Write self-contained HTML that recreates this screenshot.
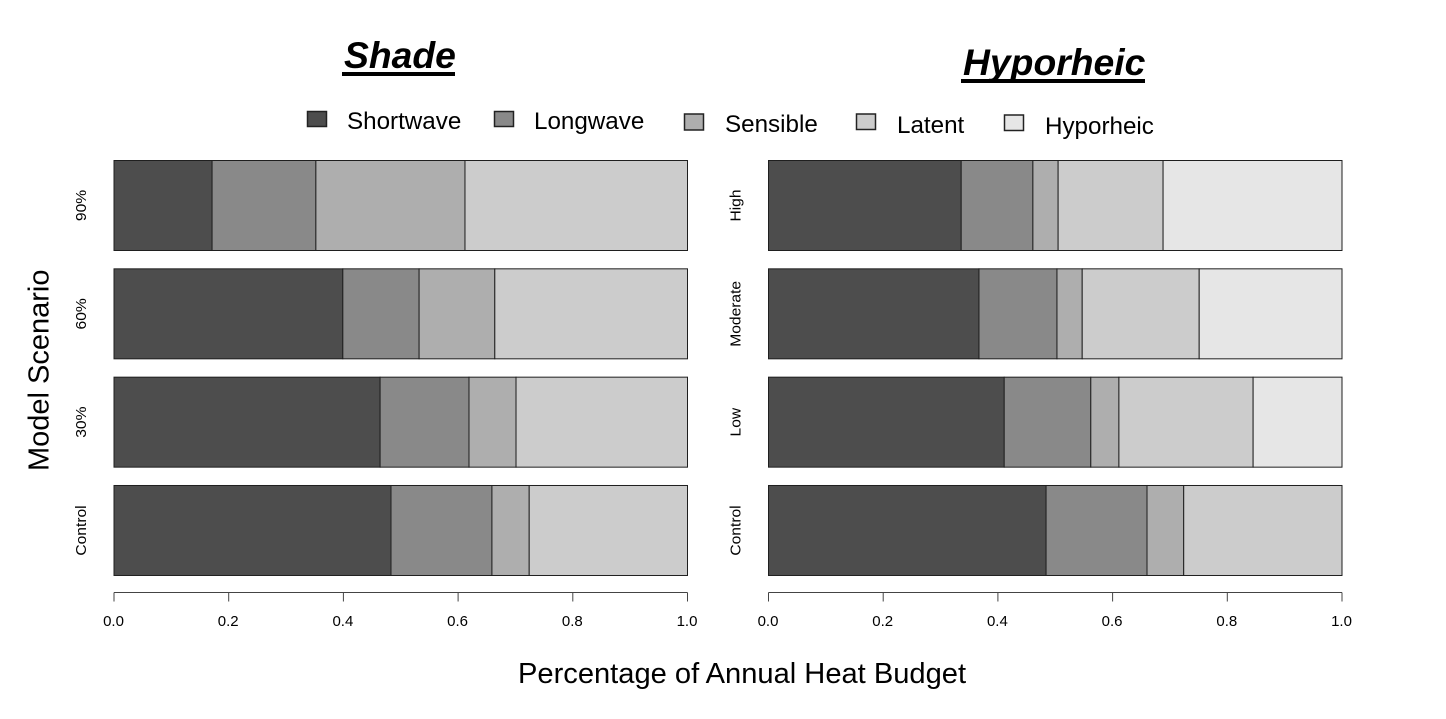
<!DOCTYPE html>
<html>
<head>
<meta charset="utf-8">
<title>Annual Heat Budget</title>
<style>
html,body{margin:0;padding:0;background:#fff;width:1446px;height:719px;overflow:hidden}
svg{display:block}
text{font-family:"Liberation Sans",sans-serif;fill:#000}
</style>
</head>
<body>
<svg id="chart" xmlns="http://www.w3.org/2000/svg" width="1446" height="719" viewBox="0 0 1446 719">
  <text x="344" y="68" font-size="37.300" font-weight="bold" font-style="italic">Shade</text>
  <rect x="342" y="72" width="113" height="4" fill="#000"/>
  <text x="963" y="75" font-size="37.300" font-weight="bold" font-style="italic">Hyporheic</text>
  <rect x="961" y="79" width="184" height="4" fill="#000"/>
  <text transform="translate(48.500,471) rotate(-90)" font-size="29">Model Scenario</text>
  <text x="518" y="683" font-size="29.100">Percentage of Annual Heat Budget</text>
  <g>
    <g>
      <rect x="307.500" y="111.500" width="19" height="15" fill="#4d4d4d" stroke="#222" stroke-width="1.500"/>
      <text x="347" y="129" font-size="24.200">Shortwave</text>
    </g>
    <g>
      <rect x="494.500" y="111.500" width="19" height="15" fill="#898989" stroke="#222" stroke-width="1.500"/>
      <text x="534" y="129" font-size="24.200">Longwave</text>
    </g>
    <g>
      <rect x="684.500" y="114" width="19" height="16" fill="#aeaeae" stroke="#222" stroke-width="1.500"/>
      <text x="725" y="132" font-size="24.200">Sensible</text>
    </g>
    <g>
      <rect x="856.500" y="114" width="19" height="15.500" fill="#cccccc" stroke="#222" stroke-width="1.500"/>
      <text x="897" y="133" font-size="24.200">Latent</text>
    </g>
    <g>
      <rect x="1004.500" y="115" width="19" height="15.500" fill="#e6e6e6" stroke="#222" stroke-width="1.500"/>
      <text x="1045" y="134" font-size="24.200">Hyporheic</text>
    </g>
  </g>
</svg>
<script>
// Category labels, top row to bottom row
const shadeCategories = ['90%', '60%', '30%', 'Control'];
const hyporheicCategories = ['High', 'Moderate', 'Low', 'Control'];

// Shade panel: fraction of budget per component
const shadeShortwave = [0.171, 0.399, 0.464, 0.483];
const shadeLongwave = [0.181, 0.133, 0.155, 0.176];
const shadeSensible = [0.260, 0.132, 0.082, 0.065];
const shadeLatent = [0.388, 0.336, 0.299, 0.276];

// Hyporheic panel: fraction of budget per component
const hypoShortwave = [0.336, 0.367, 0.411, 0.484];
const hypoLongwave = [0.125, 0.136, 0.151, 0.176];
const hypoSensible = [0.044, 0.044, 0.049, 0.064];
const hypoLatent = [0.183, 0.204, 0.234, 0.276];
const hypoHyporheic = [0.312, 0.249, 0.155, 0];

const seriesNames = ['shortwave', 'longwave', 'sensible', 'latent', 'hyporheic'];
const seriesColors = ['#4d4d4d', '#898989', '#aeaeae', '#cccccc', '#e6e6e6'];
const xTickValues = [0, 0.2, 0.4, 0.6, 0.8, 1];

const NS = 'http://www.w3.org/2000/svg';
const svg = document.getElementById('chart');

function mk(tag, attrs, parent) {
  const el = document.createElementNS(NS, tag);
  for (const k in attrs) el.setAttribute(k, attrs[k]);
  parent.appendChild(el);
  return el;
}

function drawPanel(panelName, x0, categories, series) {
  const plotWidth = 573.5;
  const rowTop = 160.5;
  const rowStep = 108.33;
  const barHeight = 90;
  const axisY = 592.5;
  const xScale = v => x0 + v * plotWidth;
  const yScale = i => rowTop + i * rowStep;

  const panel = mk('g', {}, svg);
  
  

  categories.forEach((cat, i) => {
    let cum = 0;
    series.forEach((values, s) => {
      const v = values[i];
      if (v > 0) {
        const bar = mk('rect', {
          x: xScale(cum), y: yScale(i), width: v * plotWidth, height: barHeight,
          fill: seriesColors[s], stroke: '#1f1f1f', 'stroke-width': 1
        }, panel);
        
        
      }
      cum += v;
    });
    const label = mk('text', {
      transform: 'translate(' + (x0 - 28) + ',' + (yScale(i) + barHeight / 2) + ') rotate(-90) scale(1.04,1)',
      'text-anchor': 'middle', 'font-size': 15
    }, panel);
    
    
    label.textContent = cat;
  });

  const axisLine = mk('line', {
    x1: xScale(xTickValues[0]), x2: xScale(xTickValues[xTickValues.length - 1]),
    y1: axisY, y2: axisY, stroke: '#444', 'stroke-width': 1
  }, panel);
  
  

  xTickValues.forEach(t => {
    const tick = mk('line', {
      x1: xScale(t), x2: xScale(t), y1: axisY, y2: axisY + 9, stroke: '#444', 'stroke-width': 1
    }, panel);
    
    
    const tl = mk('text', {
      x: xScale(t) - 0.5, y: 626, 'text-anchor': 'middle', 'font-size': 15
    }, panel);
    
    
    tl.textContent = t.toFixed(1);
  });
}

drawPanel('shade', 114, shadeCategories, [shadeShortwave, shadeLongwave, shadeSensible, shadeLatent]);
drawPanel('hyporheic', 768.5, hyporheicCategories, [hypoShortwave, hypoLongwave, hypoSensible, hypoLatent, hypoHyporheic]);
</script>
</body>
</html>
